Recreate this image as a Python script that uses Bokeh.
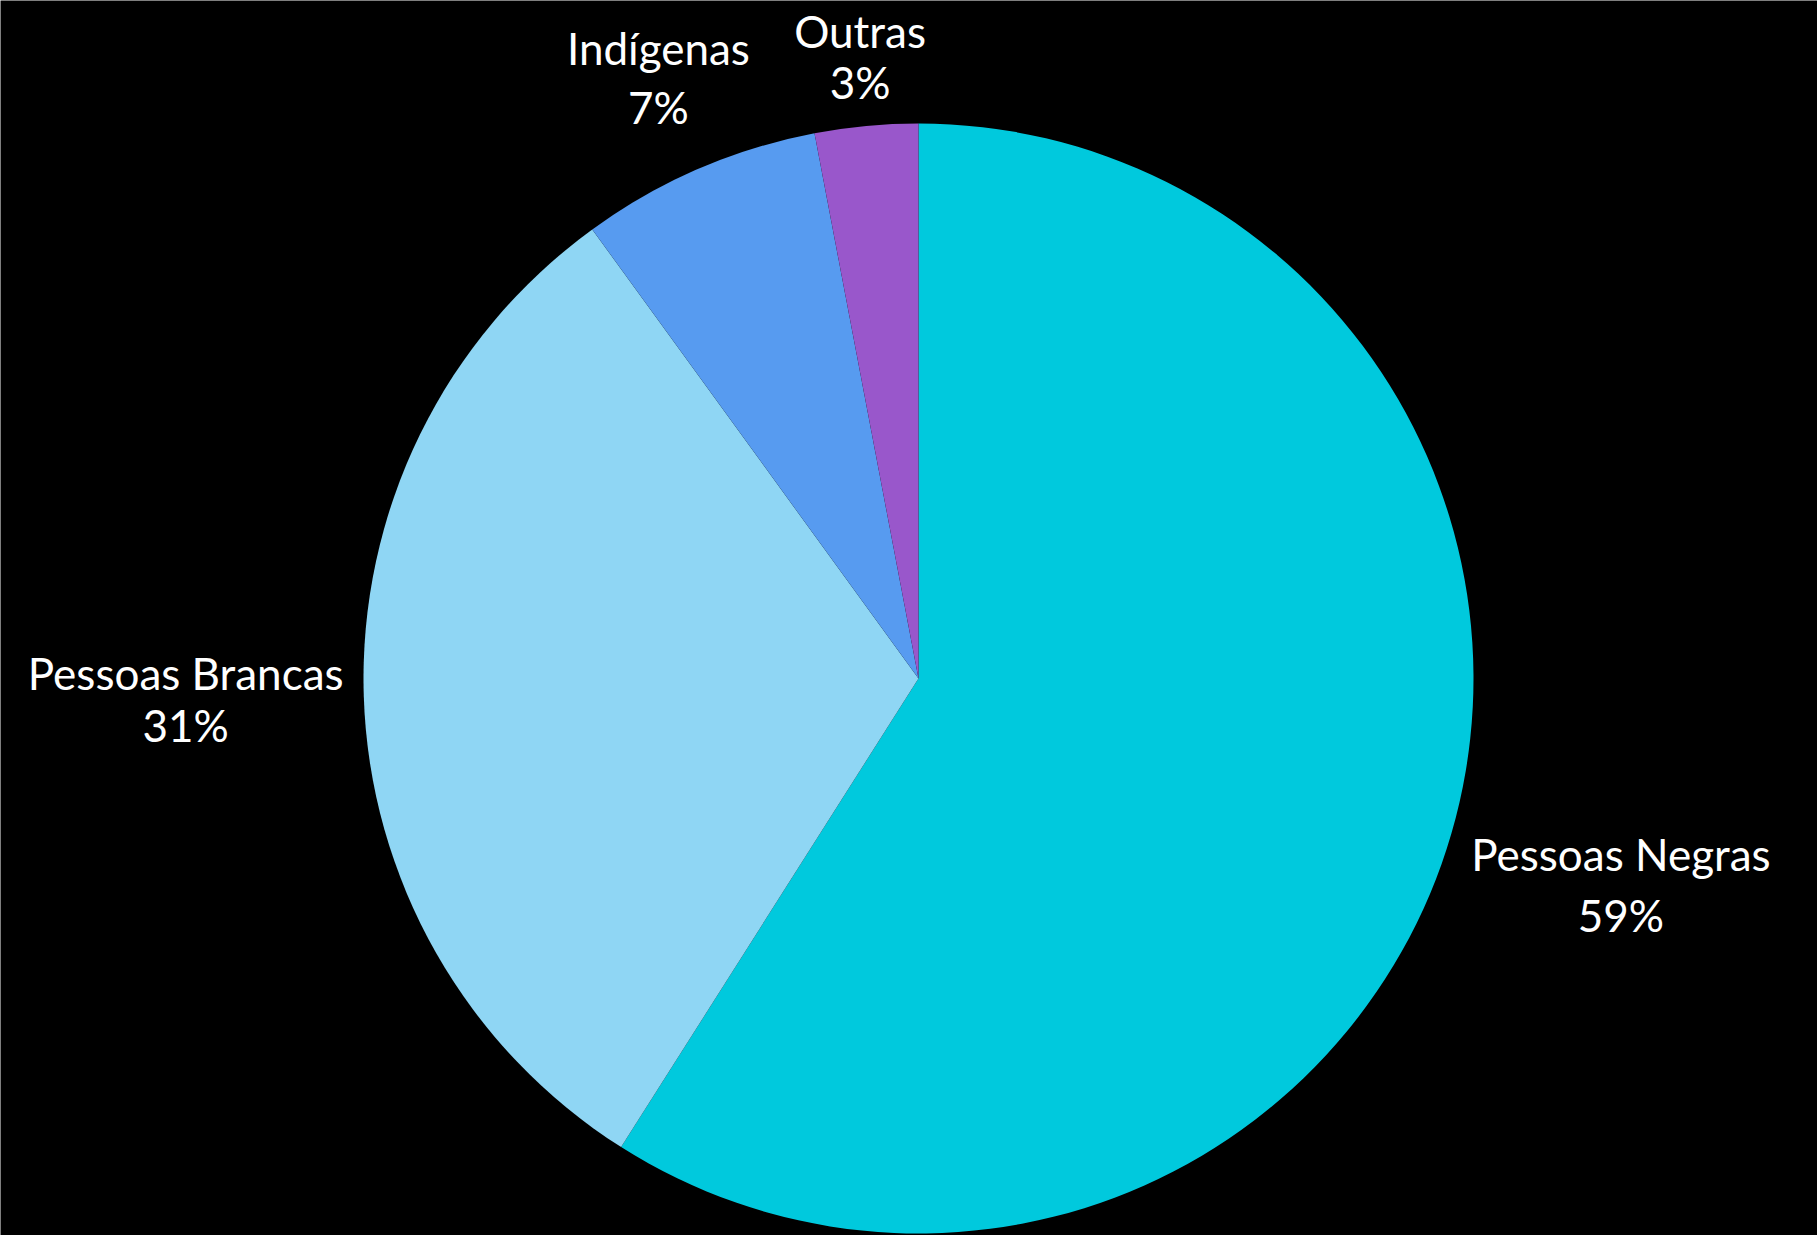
import math
from bokeh.plotting import figure
from bokeh.models import Range1d, ColumnDataSource
from bokeh.core.properties import value
from bokeh.embed import file_html
from bokeh.resources import INLINE

# ---- data ----
categories = ["Pessoas Negras", "Pessoas Brancas", "Indígenas", "Outras"]
shares = [59, 31, 7, 3]
colors = ["#00C9DD", "#8FD6F4", "#579BF0", "#9957CB"]

# ---- layout / style ----
W, H = 1817, 1235
CX, CY = 918, 678          # pie centre in screen pixels (from top-left)
R = 555                    # pie radius in pixels
label_dist = [1.318, 1.321, 1.180, 1.119]   # label distance along mid-angle, in radii
line_gap = [61, 52, 59, 51]                 # gap between name and percentage lines (px)
FONT = "Lato"
FONT_SIZE = "44px"

total = float(sum(shares))
starts, ends, mids = [], [], []
cum = 0.0
for s in shares:
    a_start = math.pi / 2 - 2 * math.pi * (cum + s) / total
    a_end = math.pi / 2 - 2 * math.pi * cum / total
    starts.append(a_start)
    ends.append(a_end)
    mids.append((a_start + a_end) / 2)
    cum += s

p = figure(width=W, height=H, output_backend="svg", toolbar_location=None,
           x_range=Range1d(-CX, W - CX), y_range=Range1d(-(H - CY), CY),
           min_border=0, match_aspect=False)
p.axis.visible = False
p.grid.visible = False
p.outline_line_color = None
p.background_fill_color = "black"
p.border_fill_color = "black"

src = ColumnDataSource(dict(start=starts, end=ends, color=colors))
p.wedge(x=0, y=0, radius=R, start_angle="start", end_angle="end",
        fill_color="color", line_color=None, source=src)

lx, l1y, l2y, names, pcts = [], [], [], [], []
for name, s, m, d, g in zip(categories, shares, mids, label_dist, line_gap):
    x = R * d * math.cos(m)
    y = R * d * math.sin(m)
    lx.append(x)
    l1y.append(y + 29)
    l2y.append(y + 29 - g)
    names.append(name)
    pcts.append(f"{s}%")

p.text(x=lx, y=l1y, text=names, text_font=value(FONT), text_font_size=FONT_SIZE,
       text_color="white", text_align="center", text_baseline="alphabetic")
p.text(x=lx, y=l2y, text=pcts, text_font=value(FONT), text_font_size=FONT_SIZE,
       text_color="white", text_align="center", text_baseline="alphabetic")

open("out.html", "w").write(file_html(p, INLINE))
